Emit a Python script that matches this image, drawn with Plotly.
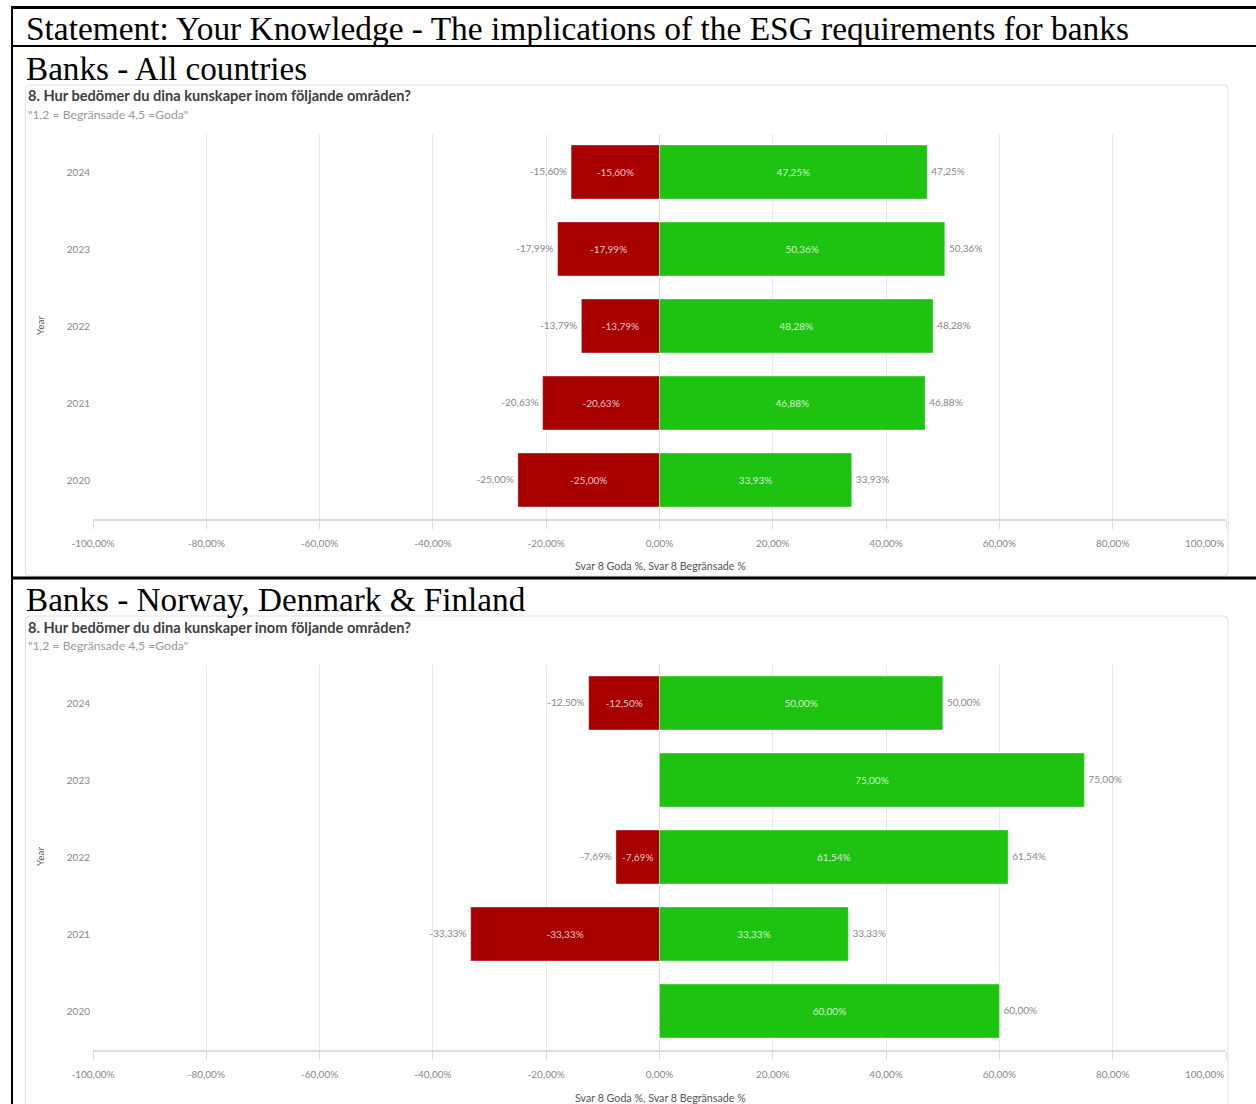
import plotly.graph_objects as go

# ---- data -------------------------------------------------------------
years = ["2020", "2021", "2022", "2023", "2024"]

# All countries: share answering 1-2 (limited, shown negative) and 4-5 (good)
all_limited = [-25.00, -20.63, -13.79, -17.99, -15.60]
all_good = [33.93, 46.88, 48.28, 50.36, 47.25]

# Norway, Denmark & Finland (no "limited" answers in 2020 and 2023)
ndf_limited = [None, -33.33, -7.69, None, -12.50]
ndf_good = [60.00, 33.33, 61.54, 75.00, 50.00]

x_ticks = [-100, -80, -60, -40, -20, 0, 20, 40, 60, 80, 100]
x_tick_labels = [f"{v:.2f}%".replace(".", ",") for v in x_ticks]

header = "Statement: Your Knowledge - The implications of the ESG requirements for banks"
panel_titles = ["Banks - All countries", "Banks - Norway, Denmark & Finland"]
question = "8. Hur bedömer du dina kunskaper inom följande områden?"
scale_note = "\"1,2 = Begränsade 4,5 =Goda\""
x_title = "Svar 8 Goda %, Svar 8 Begränsade %"
y_title = "Year"

# ---- page geometry (pixels) -----------------------------------------
W, H = 1256, 1104
RED = "#a80000"
GREEN = "#1ec311"
SANS = "Lato"
SERIF = "Liberation Serif"
TICK_GREY = "#888888"


def px(x):
    return x / W


def py(y):
    return 1 - y / H


fig = go.Figure()

panels = [
    dict(limited=all_limited, good=all_good, off=0, xa="x", ya="y"),
    dict(limited=ndf_limited, good=ndf_good, off=531, xa="x2", ya="y2"),
]

for p in panels:
    for vals, col, side in [(p["limited"], RED, "middle left"), (p["good"], GREEN, "middle right")]:
        fig.add_trace(go.Bar(
            x=vals, y=years, orientation="h",
            xaxis=p["xa"], yaxis=p["ya"],
            marker=dict(color=col, line=dict(color="rgba(255,255,255,0.35)", width=1)),
            texttemplate="%{x:.2f}%", textposition="inside",
            insidetextanchor="middle", textangle=0,
            insidetextfont=dict(family=SANS, size=10, color="rgba(255,255,255,0.78)"),
            showlegend=False, hoverinfo="skip",
        ))
        # value labels just outside the bar ends (invisible marker gives the gap)
        fig.add_trace(go.Scatter(
            x=vals, y=years, mode="markers+text",
            xaxis=p["xa"], yaxis=p["ya"],
            marker=dict(size=5, opacity=0),
            texttemplate="%{x:.2f}%", textposition=side,
            textfont=dict(family=SANS, size=10, color=TICK_GREY),
            showlegend=False, hoverinfo="skip",
        ))

# the last tick label is drawn separately, right-aligned on its tick
axis_common = dict(
    range=[-100, 100], tickvals=x_ticks, ticktext=x_tick_labels[:-1] + [""],
    showgrid=True, gridcolor="#e8e8e8", gridwidth=1,
    zeroline=True, zerolinecolor="#dcdcdc", zerolinewidth=1,
    showline=True, linecolor="#dcdcdc", linewidth=2,
    ticks="outside", ticklen=8, tickcolor="#dcdcdc", tickwidth=1,
    ticklabelstandoff=6,
    tickfont=dict(family=SANS, size=10, color=TICK_GREY),
    automargin=False, fixedrange=True,
)
yaxis_common = dict(
    type="category", categoryorder="array", categoryarray=years,
    showgrid=False, zeroline=False, showline=False, ticks="",
    ticklabelstandoff=2,
    tickfont=dict(family=SANS, size=10, color=TICK_GREY),
    automargin=False, fixedrange=True,
)

shapes = []
annotations = []

# black frame lines
for (x0, y0, x1, y1, w) in [
    (11, 7.5, 1256, 7.5, 3),
    (12, 6, 12, 1104, 2),
    (11, 46, 1256, 46, 2),
    (11, 578, 1256, 578, 3),
]:
    shapes.append(dict(type="line", xref="paper", yref="paper",
                       x0=px(x0), y0=py(y0), x1=px(x1), y1=py(y1),
                       line=dict(color="#000000", width=w)))

annotations.append(dict(text=header, x=px(24), y=py(28),
                        font=dict(family=SERIF, size=33.4, color="#000000")))


def rounded_rect(x0, y0, x1, y1, r):
    rx, ry = r / W, r / H
    X0, X1 = px(x0), px(x1)
    Y0, Y1 = py(y0), py(y1)  # Y0 top, Y1 bottom in paper units
    return (f"M{X0 + rx},{Y0} L{X1 - rx},{Y0} Q{X1},{Y0} {X1},{Y0 - ry} "
            f"L{X1},{Y1 + ry} Q{X1},{Y1} {X1 - rx},{Y1} L{X0 + rx},{Y1} "
            f"Q{X0},{Y1} {X0},{Y1 + ry} L{X0},{Y0 - ry} Q{X0},{Y0} {X0 + rx},{Y0} Z")


layout_axes = {}
for i, p in enumerate(panels):
    off = p["off"]
    suffix = "" if i == 0 else "2"
    layout_axes["xaxis" + suffix] = dict(axis_common, domain=[px(93), px(1226)],
                                         anchor="y" + suffix)
    layout_axes["yaxis" + suffix] = dict(yaxis_common,
                                         domain=[py(518.5 + off), py(133.5 + off)],
                                         anchor="x" + suffix)

    bottom = 576 + off if i == 0 else 1110
    shapes.append(dict(type="path", xref="paper", yref="paper",
                       path=rounded_rect(25.5, 85 + off, 1228, bottom, 4),
                       line=dict(color="#e0e0e0", width=1), layer="below"))

    annotations += [
        dict(text=panel_titles[i], x=px(24), y=py(68 + off),
             font=dict(family=SERIF, size=33.2, color="#000000")),
        dict(text="<b>" + question + "</b>", x=px(26), y=py(96 + off),
             font=dict(family=SANS, size=14.6, color="#404040")),
        dict(text=scale_note, x=px(26), y=py(114 + off),
             font=dict(family=SANS, size=12.2, color="#9a9a9a")),
        dict(text=x_title, x=px(660), y=py(566 + off), xanchor="center",
             font=dict(family=SANS, size=10.7, color="#555555")),
        dict(text=y_title, x=px(40), y=py(326 + off), xanchor="center",
             textangle=-90, font=dict(family=SANS, size=10, color="#555555")),
        dict(text=x_tick_labels[-1], xref=p["xa"], x=x_ticks[-1],
             y=py(543 + off), xanchor="right",
             font=dict(family=SANS, size=10, color=TICK_GREY)),
    ]

for a in annotations:
    a.setdefault("xref", "paper")
    a.setdefault("yref", "paper")
    a.setdefault("xanchor", "left")
    a.setdefault("yanchor", "middle")
    a.setdefault("showarrow", False)

fig.update_layout(
    width=W, height=H,
    margin=dict(l=0, r=0, t=0, b=0, autoexpand=False),
    paper_bgcolor="white", plot_bgcolor="white",
    barmode="relative", bargap=0.3,
    separators=",.",
    shapes=shapes, annotations=annotations,
    **layout_axes,
)

fig.write_html("out.html", config={"displayModeBar": False})
